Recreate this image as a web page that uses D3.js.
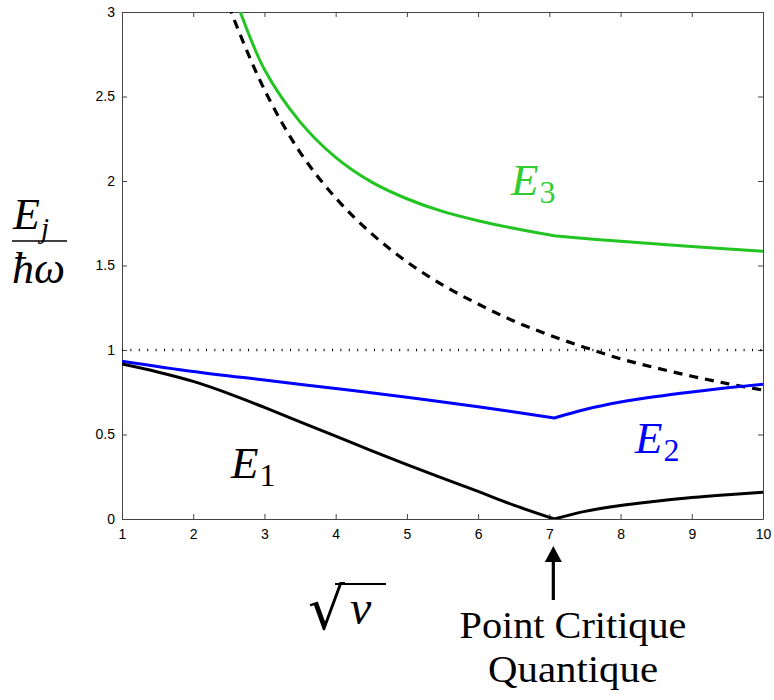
<!DOCTYPE html>
<html><head><meta charset="utf-8">
<script src="https://cdn.jsdelivr.net/npm/d3@7"></script>
<style>body{margin:0;background:#fff}svg{display:block}</style>
</head><body>
<svg id="c" width="774" height="700"></svg>
<script>
// ---- data ----
const xTicks = [1,2,3,4,5,6,7,8,9,10];
const yTicks = [0,0.5,1,1.5,2,2.5,3];
const yTickLabels = ["0","0.5","1","1.5","2","2.5","3"];

const e1X = [1,1.5,2,2.5,3,3.5,4,4.5,5,5.5,6,6.5,7.07,7.5,8,8.5,9,9.5,10];
const e1Y = [0.917,0.87,0.814,0.742,0.66,0.575,0.49,0.405,0.322,0.242,0.163,0.082,0.0,0.045,0.08,0.105,0.127,0.144,0.158];

const e2X = [1,2,3,4,5,6,7.07,7.5,8,8.5,9,9.5,10];
const e2Y = [0.934,0.873,0.822,0.772,0.721,0.664,0.598,0.648,0.692,0.725,0.752,0.776,0.797];

const e3X = [2.6,2.66,3,3.5,4,4.5,5,5.5,6,6.5,7.07,7.5,8,9,10];
const e3Y = [3.07,3.0,2.66,2.35,2.14,1.995,1.895,1.82,1.765,1.72,1.676,1.66,1.643,1.612,1.585];

const dashX = [2.5,2.56,3,3.5,4,4.5,5,5.5,6,6.5,7,7.5,8,8.5,9,9.5,10];
const dashY = [3.04,2.97,2.54,2.17,1.9,1.69,1.522,1.385,1.272,1.172,1.088,1.015,0.948,0.894,0.845,0.801,0.763];

const refLevel = 1;
const critX = 7.07;

// ---- layout ----
const svg = d3.select("#c");
const L = 122, R = 763, T = 12, B = 519;
const x = d3.scaleLinear().domain([1,10]).range([L,R]);
const y = d3.scaleLinear().domain([0,3]).range([B,T]);
const axisCol = "#444";

svg.append("defs").append("clipPath").attr("id","clip")
  .append("rect").attr("x",L).attr("y",T).attr("width",R-L).attr("height",B-T);

// axes
const fmtY = d => yTickLabels[yTicks.indexOf(d)];
const gB = svg.append("g").attr("transform",`translate(0,${B})`)
  .call(d3.axisBottom(x).tickValues(xTicks).tickSizeInner(-5).tickSizeOuter(0).tickPadding(10).tickFormat(d3.format("d")));
const gL = svg.append("g").attr("transform",`translate(${L},0)`)
  .call(d3.axisLeft(y).tickValues(yTicks).tickSizeInner(-5).tickSizeOuter(0).tickPadding(7).tickFormat(fmtY));
const gT = svg.append("g").attr("transform",`translate(0,${T})`)
  .call(d3.axisTop(x).tickValues(xTicks).tickSizeInner(-5).tickSizeOuter(0).tickFormat(""));
const gR = svg.append("g").attr("transform",`translate(${R},0)`)
  .call(d3.axisRight(y).tickValues(yTicks).tickSizeInner(-5).tickSizeOuter(0).tickFormat(""));
[gB,gL,gT,gR].forEach(g=>{
  g.selectAll("path,line").attr("stroke",axisCol).attr("stroke-width",1);
  g.selectAll("text").attr("fill","#000").style("font-family","'Liberation Sans',Arial,sans-serif").style("font-size","14px");
});

const plot = svg.append("g").attr("clip-path","url(#clip)");

// dotted reference line
plot.append("line").attr("x1",L).attr("x2",R).attr("y1",y(refLevel)).attr("y2",y(refLevel))
  .attr("stroke","#000").attr("stroke-width",2.6).attr("stroke-dasharray","1,7.4");

const smooth = d3.line().x(d=>x(d[0])).y(d=>y(d[1])).curve(d3.curveCatmullRom.alpha(0.5));
const zip = (a,b)=>a.map((v,i)=>[v,b[i]]);
// piecewise smooth: split at the critical point (kink)
function kinked(xs, ys){
  const pts = zip(xs,ys);
  const left = pts.filter(p=>p[0]<=critX), right = pts.filter(p=>p[0]>=critX);
  return smooth(left) + smooth(right).replace(/^M/,"L");
}

plot.append("path").attr("d",smooth(zip(dashX,dashY))).attr("fill","none")
  .attr("stroke","#000").attr("stroke-width",3.2).attr("stroke-dasharray","9,7");
plot.append("path").attr("d",kinked(e3X,e3Y)).attr("fill","none")
  .attr("stroke","#22c422").attr("stroke-width",3).attr("stroke-linejoin","round");
plot.append("path").attr("d",kinked(e2X,e2Y)).attr("fill","none")
  .attr("stroke","#0000ff").attr("stroke-width",3).attr("stroke-linejoin","round");
plot.append("path").attr("d",kinked(e1X,e1Y)).attr("fill","none")
  .attr("stroke","#000").attr("stroke-width",3).attr("stroke-linejoin","round");

// labels
function eLabel(xp, yp, sub, col){
  const t = svg.append("text").attr("x",xp).attr("y",yp).attr("fill",col)
    .style("font-family","'Liberation Serif',serif").style("font-size","45px");
  t.append("tspan").style("font-style","italic").text("E");
  t.append("tspan").attr("dy",8).attr("dx",1).style("font-size","32px").text(sub);
}
eLabel(231,478,"1","#000");
eLabel(635,453,"2","#0000ff");
eLabel(511,195,"3","#33cc33");

// y-axis label: fraction E_j / ħω
const fr = svg.append("text").attr("x",13).attr("y",229).attr("fill","#000")
  .style("font-family","'Liberation Serif',serif").style("font-size","44px");
fr.append("tspan").style("font-style","italic").text("E");
fr.append("tspan").attr("dy",9).attr("dx",1).style("font-size","29px").style("font-style","italic").text("j");
svg.append("line").attr("x1",12).attr("x2",67).attr("y1",241).attr("y2",241).attr("stroke","#000").attr("stroke-width",1.6);
svg.append("text").attr("x",12).attr("y",283).attr("fill","#000")
  .style("font-family","'Liberation Serif',serif").style("font-size","44px").style("font-style","italic").text("ħω");

// x-axis label √ν
svg.append("text").attr("x",308).attr("y",629).attr("fill","#000")
  .style("font-family","'DejaVu Serif',serif").style("font-size","58px").text("√");
svg.append("line").attr("x1",335).attr("x2",386).attr("y1",584).attr("y2",584).attr("stroke","#000").attr("stroke-width",2);
svg.append("text").attr("x",350).attr("y",624).attr("fill","#000")
  .style("font-family","'Liberation Serif',serif").style("font-size","48px").style("font-style","italic").text("ν");

// critical point arrow and text
const ax = x(critX) - 1;
svg.append("line").attr("x1",ax).attr("x2",ax).attr("y1",600).attr("y2",558).attr("stroke","#000").attr("stroke-width",3.2);
svg.append("path").attr("d",`M${ax},546 L${ax-8.5},562 L${ax+8.5},562 Z`).attr("fill","#000");
svg.append("text").attr("x",573).attr("y",638).attr("text-anchor","middle").attr("fill","#000")
  .attr("textLength",227).attr("lengthAdjust","spacingAndGlyphs")
  .style("font-family","'Liberation Serif',serif").style("font-size","38px").text("Point Critique");
svg.append("text").attr("x",573).attr("y",682).attr("text-anchor","middle").attr("fill","#000")
  .attr("textLength",170).attr("lengthAdjust","spacingAndGlyphs")
  .style("font-family","'Liberation Serif',serif").style("font-size","38px").text("Quantique");
</script>
</body></html>
